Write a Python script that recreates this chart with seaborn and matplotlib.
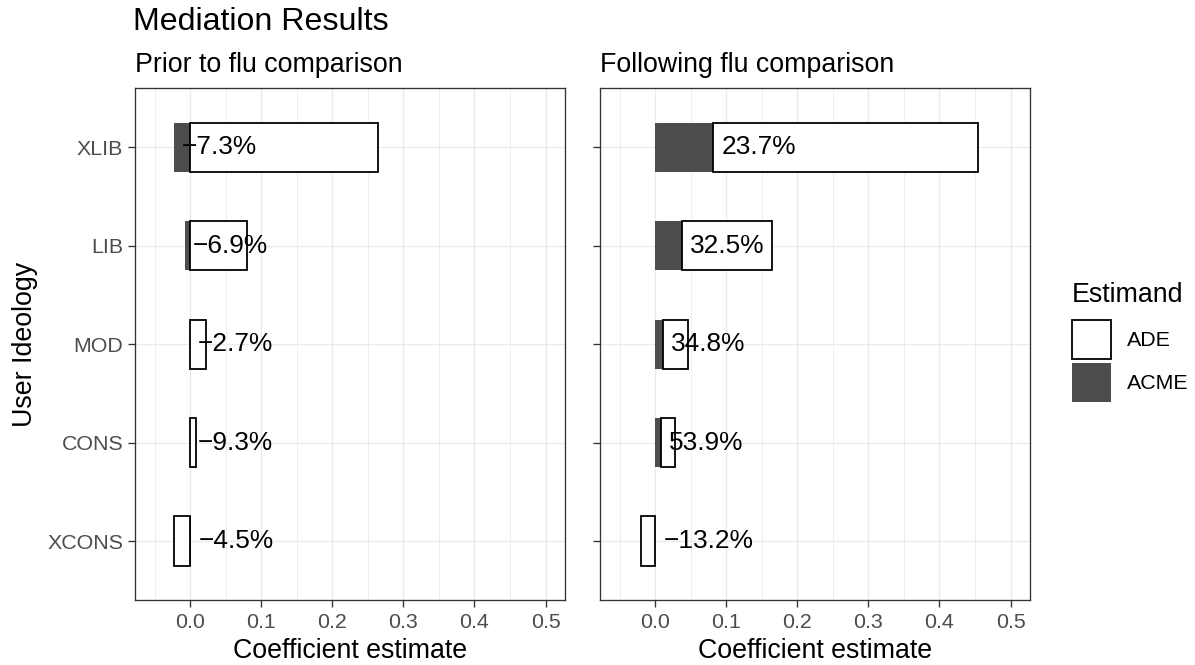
"""Mediation results: ACME / ADE stacked bars by user ideology."""

import matplotlib
matplotlib.use("Agg")
import matplotlib.pyplot as plt
import numpy as np
import pandas as pd
import seaborn as sns
from matplotlib.patches import Patch

IDEOLOGIES = ["XLIB", "LIB", "MOD", "CONS", "XCONS"]
PERIODS = ["Prior to flu comparison", "Following flu comparison"]

PRIOR_ACME = [-0.0225, -0.0066, -0.0006, -0.0006, 0.0010]
PRIOR_ADE = [0.2645, 0.0805, 0.0229, 0.0089, -0.0220]
PRIOR_LABELS = ["\u22127.3%", "\u22126.9%", "\u22122.7%", "\u22129.3%", "\u22124.5%"]

FOLLOW_ACME = [0.0819, 0.0375, 0.0108, 0.0084, 0.0004]
FOLLOW_ADE = [0.3718, 0.1273, 0.0356, 0.0200, -0.0206]
FOLLOW_LABELS = ["23.7%", "32.5%", "34.8%", "53.9%", "\u221213.2%"]

ACME_COLOR = "#4D4D4D"
GRID_COLOR = "#EBEBEB"
BORDER_COLOR = "#333333"
TICK_TEXT = "#4D4D4D"


def build_frame() -> pd.DataFrame:
    frames = []
    for period, acme, ade, labels in [
        (PERIODS[0], PRIOR_ACME, PRIOR_ADE, PRIOR_LABELS),
        (PERIODS[1], FOLLOW_ACME, FOLLOW_ADE, FOLLOW_LABELS),
    ]:
        frames.append(pd.DataFrame({
            "period": period,
            "ideology": IDEOLOGIES,
            "acme": acme,
            "ade": ade,
            "label": labels,
        }))
    df = pd.concat(frames, ignore_index=True)
    # ggplot-style stacking: positives and negatives stack separately
    same_sign = np.sign(df["acme"]) == np.sign(df["ade"])
    df["ade_start"] = np.where(same_sign, df["acme"], 0.0)
    return df


def style_axis(ax):
    ax.set_xlim(-0.0775, 0.5275)
    ax.set_ylim(4.6, -0.6)
    ax.set_xticks(np.arange(0, 0.51, 0.1))
    ax.set_xticklabels([f"{v:.1f}" for v in np.arange(0, 0.51, 0.1)])
    ax.set_xticks(np.arange(-0.05, 0.51, 0.1), minor=True)
    ax.grid(which="major", color=GRID_COLOR, linewidth=1.0)
    ax.grid(which="minor", axis="x", color=GRID_COLOR, linewidth=0.55)
    ax.set_axisbelow(True)
    for spine in ax.spines.values():
        spine.set_color(BORDER_COLOR)
        spine.set_linewidth(0.95)
        spine.set_visible(True)
    ax.tick_params(which="major", bottom=True, left=True, length=5, width=0.95,
                   color=BORDER_COLOR, labelcolor=TICK_TEXT, labelsize=15.4)
    ax.tick_params(axis="x", which="major", pad=4.5)
    ax.tick_params(axis="y", which="major", pad=3.5)
    ax.tick_params(which="minor", bottom=False, left=False, length=0)
    ax.set_xlabel("Coefficient estimate", fontsize=19.3, labelpad=4.5, color="black")


sns.set_theme(style="white")
plt.rcParams["font.family"] = ["Liberation Sans", "DejaVu Sans"]
plt.rcParams["text.color"] = "black"
plt.rcParams["axes.labelcolor"] = "black"

data = build_frame()

fig, axes = plt.subplots(1, 2, figsize=(11.95, 6.65), dpi=100)
fig.subplots_adjust(left=0.113, right=0.862, bottom=0.0977, top=0.867, wspace=0.0814)

for ax, period in zip(axes, PERIODS):
    sub = data[data["period"] == period]
    sns.barplot(data=sub, y="ideology", x="acme", order=IDEOLOGIES, orient="y",
                color=ACME_COLOR, saturation=1, width=0.5, errorbar=None,
                linewidth=0, ax=ax)
    n_before = len(ax.patches)
    sns.barplot(data=sub, y="ideology", x="ade", order=IDEOLOGIES, orient="y",
                color="white", saturation=1, width=0.5, errorbar=None,
                edgecolor="black", linewidth=1.3, ax=ax)
    starts = sub.set_index("ideology").loc[IDEOLOGIES, "ade_start"].to_numpy()
    for patch, start in zip(ax.patches[n_before:], starts):
        patch.set_x(start)
    for i, row in enumerate(sub.set_index("ideology").loc[IDEOLOGIES].itertuples()):
        ax.text(row.acme + 0.011, i, row.label, ha="left", va="center",
                fontsize=18.9, color="black", zorder=5)
    style_axis(ax)
    ax.set_title(period, loc="left", fontsize=19.3, pad=12, color="black")

axes[0].set_ylabel("User Ideology", fontsize=19.3, va="center")
axes[0].yaxis.set_label_coords(-0.256, 0.5)
axes[1].set_ylabel("")
axes[1].tick_params(axis="y", labelleft=False)

fig.text(133 / 1195, 1 - 29.5 / 665, "Mediation Results", fontsize=23.1,
         ha="left", va="baseline", color="black")

handles = [
    Patch(facecolor="white", edgecolor="black", linewidth=1.3, label="ADE"),
    Patch(facecolor=ACME_COLOR, edgecolor="none", label="ACME"),
]
legend = fig.legend(handles=handles, title="Estimand", loc="upper left",
                    bbox_to_anchor=(1072 / 1195, 1 - 282 / 665), frameon=False,
                    fontsize=15.4, title_fontsize=19.3, handlelength=1.8,
                    handleheight=2.4, handletextpad=0.75, labelspacing=0.2,
                    borderpad=0, borderaxespad=0, alignment="left")
legend._legend_box.sep = 9
for text in legend.get_texts():
    text.set_color("black")

fig.savefig("out.png", dpi=100)
plt.close(fig)
